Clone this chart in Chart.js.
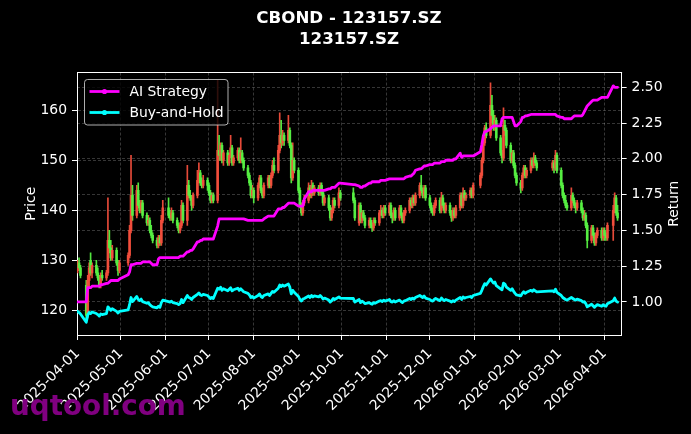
<!DOCTYPE html>
<html><head><meta charset="utf-8">
<script src="https://cdn.jsdelivr.net/npm/chart.js@4.4.1/dist/chart.umd.min.js"></script>
<style>html,body{margin:0;padding:0;background:#000;}canvas{display:block;}</style>
</head><body>
<canvas id="chart" width="691" height="434" style="width:691px;height:434px"></canvas>
<script>
// ---- categories ----
const firstDate = '2025-04-01';
const lastDate = '2026-04-10';
const holidays = ['2025-04-04','2025-05-01','2025-05-02','2025-05-05','2025-06-02',
  '2025-10-01','2025-10-02','2025-10-03','2025-10-06','2025-10-07','2025-10-08',
  '2026-01-01','2026-01-02','2026-02-16','2026-02-17','2026-02-18','2026-02-19','2026-02-20','2026-02-23','2026-04-06'];
const tickLabels = ['2025-04-01','2025-05-01','2025-06-01','2025-07-01','2025-08-01','2025-09-01',
  '2025-10-01','2025-11-01','2025-12-01','2026-01-01','2026-02-01','2026-03-01','2026-04-01'];
const priceTicks = [120,130,140,150,160];
const returnTicks = [1.00,1.25,1.50,1.75,2.00,2.25,2.50];

// ---- series (one value per trading day) ----
const open = [
128,129.5,128.5,125,119.5,126,130,127.5,129,127.5,126.5,125,127,126.5,127.5,134,132.5,130.5,132,129.5,128,
129.5,131,136,143,139,144,141,140,141.5,139,137.5,138,136,135,134,133,134.5,133.5,138,
140.5,139,138.5,139.5,138,137,136,137,141,138,145,143,142.5,141,143,146,147.5,145.5,145,146,
145,143.5,142,143,142,152,151,153,150,151.5,149.5,151,152.5,149.5,150.5,152,150,151.5,150,148.5,147,145.5,143,
144,142.5,145,146.5,144,143,145,146.5,145,147,149,148,152,155,153.5,155,154,156,153,146.5,150,
148,144,141,139.5,141.5,142,144.5,143,145,143.5,144.5,143.5,145,143.5,141.5,142.5,140.5,138.5,140,142,141,143.5,
143.5,142,137.5,141,138,139.5,138.5,137,138,137,136.5,138,137.5,139.5,140,139,140.5,
139.5,141,139,138.5,140,138.5,140.5,139,138,139.5,140,142,141,142.5,141.5,143,145,144,143,144.5,
142.5,141,140,139.5,141,142,140,142.5,141,140,141,139.5,138.5,140,139,140.5,143,141,143.5,142.5,143,144,143,
145,147,150,153.5,156.5,155,161,159,157,158,154.5,151.5,150.5,157,156,153,150,151.5,149,147,
145.5,144.5,147,148.5,147,148,150,149,150.5,149.5,148.5,149.5,148.5,151,
148,145,143,142,141,140.5,143,142,141,140.5,141.5,140,138.5,139,137,134,136.5,135,133.5,135,136,134.5,
136,135,134.5,137,140,142.5,139.5];
const high = [
130,130.5,129,126,127,129.5,131.5,129.5,130,128.5,127,127.5,128,128,142.5,136,134,133,132.5,130,130,
131.5,137,151,145,145,145.5,142,142,142,139.5,139,138.5,137,135.5,134.5,135,135,139,142,
142.5,140,140.5,140,138.5,137.5,137.5,142,141.5,149,146,144,143,143.5,148,149.5,148,146.5,147,146.5,
145.5,144,143.5,143.5,166,155,153.5,153.5,152,152,151.5,155,153,151,152.5,152.5,154.5,152,150.5,149,147.5,146,145,
144.5,145.5,147,147,144.5,145.5,147,147,147.5,150,150.5,153,159.5,158,156,155.5,159,156.5,153.5,153.5,150.5,
148.5,144.5,141.5,142,143,145.5,145,146,145.5,145,145,145.5,145.5,144,143,143,141,140.5,142.5,142.5,144.5,144,
144.5,142.5,141.5,141.5,140,140,139,138.5,138.5,137.5,138.5,138.5,140,141,140.5,141,141,
141.5,141.5,139.5,140.5,140.5,141,141,139.5,140,140.5,142.5,142.5,143,143,143.5,145.5,147,144.5,145,145,
143,141.5,140.5,141.5,142.5,142.5,143.6,143,141.5,141.5,141.5,140,140.5,140.5,141,143.5,143.5,144.5,144,143.5,144.5,144.5,145.5,
147.5,150.5,154,157,157.5,165.5,163,160,159,158.5,155,152,160.5,158,156.5,153.5,152,152,149.5,147.5,
146,147.5,149,149,148.5,150.5,150.5,151.5,151,150,150,150,152,151.5,
148.5,145.5,143.5,143,141.5,144.5,143.5,142.5,141.5,142,142,140.5,140,139.5,137.5,137,137,135.5,135.5,136.5,136.5,136.5,
136.5,135.5,137.5,141,143.5,143,141];
const low = [
127.5,128,126.5,118,118.5,124.5,127,126.5,127,126,124.5,124.5,126,126,127,131.5,130,130,129,127,127.5,
129,130.5,135.5,138,138.5,140.5,139.5,139.5,138.5,137,137,135.5,134.5,133.5,132.5,132.5,133,133,137.5,
138.5,138,138,137.5,136.5,135.5,135.5,136.5,137.5,137,142.5,142,140,140.5,142.5,145.5,145,144.5,144.5,144,
143,141.5,141.5,141.5,141.5,150,150,149.5,149,149,149,150.5,149,149,150,149.5,149.5,149.5,148,146.5,145,142.5,142.5,
141.5,142,144.5,143.5,142.5,142.5,144.5,144.5,144.5,146.5,147.5,147.5,151.5,152.5,153,153,153.5,152.5,145.5,146,147.5,
143.5,140.5,139,139,141,141.5,142.5,142.5,143,143,143,143,143,141,141,140,138,138,139.5,140.5,140.5,142,
141.5,138,137,137.5,137.5,138,136.5,136.5,136.5,135.8,136,137,137,139,138.5,138.5,139,
139,138.5,137.5,138,138,138,138.5,137.5,137.5,139,139.5,140.5,140.5,141,141,142.5,143.5,142.5,142.5,142,
140.5,139.5,139,139,140.5,139.5,139.5,140.5,139.5,139.5,139,137.8,138,138.5,138.5,140,140.5,140.5,142,142,142.5,142.5,142.5,
144.5,146.5,149.5,153,154.5,154.5,157.5,156,156,154,151,149.5,150,155,152.5,149.5,149.5,148.5,146.5,145,
143.5,144,146.5,146.5,146.5,147.5,148.5,148.5,149,148,148,147.5,148,147.5,
144.5,142.5,141.5,140.5,140,140,141.5,140.5,139.5,140,139.5,138,138,136.5,132.5,133.5,134.5,133,133,134.5,134,134,
134,134,134,134,139.5,139,138];
const close = [
129.5,128.5,127,119,126,128.5,127.5,129,127.5,126.5,125,127,126.5,127.5,134,132.5,130.5,132,129.5,128,129.5,
131,136,143,139,144,141,140,141.5,139,137.5,138,136,135,134,133,134.5,133.5,138,140.5,
139,138.5,139.5,138,137,136,137,141,138,145,143,142.5,141,143,146,147.5,145.5,145,146,145,
143.5,142,143,142,152,151,153,150,151.5,149.5,151,152.5,149.5,150.5,152,150,151.5,150,148.5,147,145.5,143,144,
142.5,145,146.5,144,143,145,146.5,145,147,149,148,152,155,153.5,155,154,156,153,146.5,150,148,
144,141,139.5,141.5,142,144.5,143,145,143.5,144.5,143.5,145,143.5,141.5,142.5,140.5,138.5,140,142,141,143.5,142.5,
142,138.5,141,138,139.5,138.5,137,138,137,136.5,138,137.5,139.5,140,139,140.5,139.5,
141,139,138.5,140,138.5,140.5,139,138,139.5,140,142,141,142.5,141.5,143,145,144,143,144.5,142.5,
141,140,139.5,141,142,140,142.5,141,140,141,139.5,138.5,140,139,140.5,143,141,143.5,142.5,143,144,143,145,
147,150,153.5,156.5,155,161,159,157,158,154.5,151.5,150.5,157,156,153,150,151.5,149,147,145.5,
144.5,147,148.5,147,148,150,149,150.5,149.5,148.5,149.5,148.5,151,148,
145,143,142,141,140.5,143,142,141,140.5,141.5,140,138.5,139,137,134,136.5,135,133.5,135,136,134.5,136,
135,134.5,137,140,142.5,139.5,138.5];
const aiStrategy = [
1.00,1.00,1.00,1.00,1.10,1.10,1.10,1.11,1.11,1.11,1.11,1.12,1.12,1.13,1.13,1.14,1.15,1.15,1.15,1.15,1.16,
1.19,1.21,1.26,1.26,1.27,1.27,1.27,1.27,1.28,1.28,1.28,1.28,1.27,1.26,1.26,1.30,1.31,1.31,1.31,
1.31,1.31,1.31,1.31,1.31,1.31,1.32,1.32,1.32,1.35,1.35,1.36,1.36,1.37,1.42,1.42,1.43,1.43,1.44,1.44,
1.44,1.44,1.44,1.44,1.53,1.58,1.58,1.58,1.58,1.58,1.58,1.58,1.58,1.58,1.58,1.58,1.58,1.58,1.58,1.57,1.57,1.57,1.57,
1.57,1.57,1.57,1.57,1.57,1.58,1.60,1.60,1.60,1.60,1.60,1.65,1.65,1.65,1.66,1.66,1.69,1.69,1.69,1.69,1.69,
1.67,1.67,1.67,1.67,1.72,1.77,1.77,1.77,1.78,1.78,1.78,1.78,1.78,1.78,1.78,1.79,1.79,1.80,1.80,1.80,1.83,1.83,
1.82,1.82,1.81,1.80,1.80,1.81,1.81,1.83,1.83,1.84,1.84,1.84,1.84,1.85,1.85,1.85,1.85,
1.86,1.86,1.86,1.86,1.86,1.86,1.86,1.86,1.86,1.87,1.88,1.88,1.89,1.90,1.92,1.93,1.93,1.94,1.95,1.95,
1.96,1.96,1.96,1.97,1.97,1.97,1.98,1.98,1.98,1.99,1.99,1.99,1.99,2.00,2.00,2.04,2.01,2.02,2.02,2.02,2.02,2.02,2.02,
2.05,2.10,2.16,2.19,2.19,2.21,2.22,2.23,2.23,2.23,2.23,2.28,2.29,2.29,2.29,2.29,2.29,2.26,2.23,2.23,
2.26,2.29,2.29,2.30,2.30,2.31,2.31,2.31,2.31,2.31,2.31,2.31,2.31,2.30,
2.29,2.29,2.28,2.28,2.28,2.28,2.29,2.30,2.30,2.30,2.30,2.31,2.33,2.35,2.37,2.40,2.41,2.41,2.41,2.41,2.43,2.43,
2.43,2.43,2.43,2.51,2.50,2.50,2.50];
const buyHold = [
0.934,0.926,0.916,0.858,0.908,0.926,0.919,0.930,0.919,0.912,0.901,0.916,0.912,0.919,0.966,0.955,0.941,0.952,0.934,0.923,0.934,
0.944,0.981,1.031,1.002,1.038,1.017,1.009,1.020,1.002,0.991,0.995,0.981,0.973,0.966,0.959,0.970,0.962,0.995,1.013,
1.002,0.999,1.006,0.995,0.988,0.981,0.988,1.017,0.995,1.045,1.031,1.027,1.017,1.031,1.053,1.063,1.049,1.045,1.053,1.045,
1.035,1.024,1.031,1.024,1.096,1.089,1.103,1.081,1.092,1.078,1.089,1.099,1.078,1.085,1.096,1.081,1.092,1.081,1.071,1.060,1.049,1.031,1.038,
1.027,1.045,1.056,1.038,1.031,1.045,1.056,1.045,1.060,1.074,1.067,1.096,1.118,1.107,1.118,1.110,1.125,1.103,1.056,1.081,1.067,
1.038,1.017,1.006,1.020,1.024,1.042,1.031,1.045,1.035,1.042,1.035,1.045,1.035,1.020,1.027,1.013,0.999,1.009,1.024,1.017,1.035,1.027,
1.024,0.999,1.017,0.995,1.006,0.999,0.988,0.995,0.988,0.984,0.995,0.991,1.006,1.009,1.002,1.013,1.006,
1.017,1.002,0.999,1.009,0.999,1.013,1.002,0.995,1.006,1.009,1.024,1.017,1.027,1.020,1.031,1.045,1.038,1.031,1.042,1.027,
1.017,1.009,1.006,1.017,1.024,1.009,1.027,1.017,1.009,1.017,1.006,0.999,1.009,1.002,1.013,1.031,1.017,1.035,1.027,1.031,1.038,1.031,1.045,
1.060,1.081,1.107,1.128,1.118,1.161,1.146,1.132,1.139,1.114,1.092,1.085,1.132,1.125,1.103,1.081,1.092,1.074,1.060,1.049,
1.042,1.060,1.071,1.060,1.067,1.081,1.074,1.085,1.078,1.071,1.078,1.071,1.089,1.067,
1.045,1.031,1.024,1.017,1.013,1.031,1.024,1.017,1.013,1.020,1.009,0.999,1.002,0.988,0.966,0.984,0.973,0.962,0.973,0.981,0.970,0.981,
0.973,0.970,0.988,1.009,1.027,1.006,0.999];

// ---- helpers ----
const DAY = 86400000;
function toUTC(s){ const p = s.split('-').map(Number); return Date.UTC(p[0], p[1]-1, p[2]); }
const t0 = toUTC(firstDate);
function dayNum(s){ return Math.round((toUTC(s) - t0) / DAY); }
const holidaySet = new Set(holidays.map(dayNum));
const tradingDays = [];
for (let t = t0; t <= toUTC(lastDate); t += DAY) {
  const dow = new Date(t).getUTCDay();
  const dn = Math.round((t - t0) / DAY);
  if (dow === 0 || dow === 6 || holidaySet.has(dn)) continue;
  tradingDays.push(dn);
}
const tickDays = tickLabels.map(dayNum);

const UP = 'rgba(242,78,60,0.95)';
const DOWN = 'rgba(86,240,66,0.95)';
const candleColors = tradingDays.map((d,i) => close[i] >= open[i] ? UP : DOWN);
const FONT = "'DejaVu Sans'";
const GRID = 'rgba(255,255,255,0.27)';

Chart.defaults.font.family = FONT;
Chart.defaults.color = '#ffffff';

const overlay = {
  id: 'overlay',
  afterDraw(chart) {
    const {ctx, chartArea: a} = chart;
    ctx.save();
    // top spine
    ctx.strokeStyle = '#ffffff'; ctx.lineWidth = 1;
    ctx.beginPath(); ctx.moveTo(a.left, 72.5); ctx.lineTo(a.right + 0.5, 72.5); ctx.stroke();
    // legend
    const lx = 84.5, ly = 79.5, lw = 143.5, lh = 45.5, r = 3;
    ctx.beginPath();
    ctx.moveTo(lx + r, ly); ctx.lineTo(lx + lw - r, ly); ctx.arcTo(lx + lw, ly, lx + lw, ly + r, r);
    ctx.lineTo(lx + lw, ly + lh - r); ctx.arcTo(lx + lw, ly + lh, lx + lw - r, ly + lh, r);
    ctx.lineTo(lx + r, ly + lh); ctx.arcTo(lx, ly + lh, lx, ly + lh - r, r);
    ctx.lineTo(lx, ly + r); ctx.arcTo(lx, ly, lx + r, ly, r); ctx.closePath();
    ctx.fillStyle = 'rgba(0,0,0,0.8)'; ctx.fill();
    ctx.strokeStyle = 'rgba(204,204,204,0.85)'; ctx.lineWidth = 1; ctx.stroke();
    const items = [['AI Strategy', '#ff00ff', 91.5], ['Buy-and-Hold', '#00ffff', 112.5]];
    ctx.font = '13.9px ' + FONT; ctx.textAlign = 'left'; ctx.textBaseline = 'alphabetic';
    for (const [label, color, y] of items) {
      ctx.strokeStyle = color; ctx.lineWidth = 2.8; ctx.lineCap = 'butt';
      ctx.beginPath(); ctx.moveTo(89.5, y); ctx.lineTo(119.5, y); ctx.stroke();
      ctx.fillStyle = color; ctx.beginPath(); ctx.arc(104.5, y, 2.6, 0, Math.PI * 2); ctx.fill();
      ctx.fillStyle = '#ffffff'; ctx.fillText(label, 129.5, y + 4.6);
    }
    // right axis title
    ctx.save();
    ctx.translate(677.5, (a.top + a.bottom) / 2); ctx.rotate(-Math.PI / 2);
    ctx.font = '13.9px ' + FONT; ctx.fillStyle = '#ffffff'; ctx.textAlign = 'center'; ctx.textBaseline = 'alphabetic';
    ctx.fillText('Return', 0, 0);
    ctx.restore();
    // watermark
    ctx.font = 'bold 27.8px ' + FONT; ctx.fillStyle = '#800080'; ctx.textAlign = 'left'; ctx.textBaseline = 'alphabetic';
    ctx.fillText('uqtool.com', 10, 415);
    ctx.restore();
  }
};

new Chart(document.getElementById('chart'), {
  type: 'bar',
  data: {
    datasets: [
      { type: 'line', label: 'AI Strategy', yAxisID: 'y1', order: 0,
        data: tradingDays.map((d,i) => ({x: d, y: aiStrategy[i]})),
        borderColor: '#ff00ff', borderWidth: 2.8, pointRadius: 0, tension: 0,
        borderJoinStyle: 'round', borderCapStyle: 'round' },
      { type: 'line', label: 'Buy-and-Hold', yAxisID: 'y1', order: 1,
        data: tradingDays.map((d,i) => ({x: d, y: buyHold[i]})),
        borderColor: '#00ffff', borderWidth: 2.8, pointRadius: 0, tension: 0,
        borderJoinStyle: 'round', borderCapStyle: 'round' },
      { label: 'body', yAxisID: 'y', order: 2, grouped: false,
        data: tradingDays.map((d,i) => ({x: d, y: [open[i], close[i]]})),
        backgroundColor: candleColors, barThickness: 2, minBarLength: 1, borderWidth: 0 },
      { label: 'wick', yAxisID: 'y', order: 3, grouped: false,
        data: tradingDays.map((d,i) => ({x: d, y: [low[i], high[i]]})),
        backgroundColor: candleColors, barThickness: 1, borderWidth: 0 }
    ]
  },
  options: {
    responsive: false, animation: false, devicePixelRatio: 1, events: [],
    layout: { padding: { left: 7, right: 0, top: 0, bottom: 0 } },
    plugins: {
      legend: { display: false }, tooltip: { enabled: false },
      title: { display: true, text: ['CBOND - 123157.SZ', '123157.SZ'], color: '#ffffff',
        font: { family: FONT, size: 16.67, weight: 'bold', lineHeight: 1.3 },
        padding: { top: 7.4, bottom: 21.8 } }
    },
    scales: {
      x: { type: 'linear', position: 'bottom', min: -0.42, max: 376.8, offset: false,
        afterBuildTicks: s => { s.ticks = tickDays.map(v => ({value: v})); },
        afterFit: s => { s.height = 99; },
        ticks: { callback: (v, i) => tickLabels[i], color: '#ffffff', font: { size: 13.9 },
          minRotation: 45, maxRotation: 45, autoSkip: false, padding: 5.5 },
        grid: { color: GRID, lineWidth: 0.8, offset: false, tickColor: '#ffffff', tickLength: 5, tickWidth: 1 },
        border: { display: true, color: '#ffffff', width: 1, dash: [3, 2] } },
      y: { type: 'linear', position: 'left', min: 115.06, max: 167.56,
        afterBuildTicks: s => { s.ticks = priceTicks.map(v => ({value: v})); },
        afterFit: s => { s.width = 70; },
        ticks: { callback: v => String(v), color: '#ffffff', font: { size: 13.9 }, padding: 5 },
        title: { display: true, text: 'Price', color: '#ffffff', font: { size: 13.9 }, padding: { top: 16, bottom: 0 } },
        grid: { color: GRID, lineWidth: 0.8, tickColor: '#ffffff', tickLength: 5, tickWidth: 1 },
        border: { display: true, color: '#ffffff', width: 1, dash: [3, 2] } },
      y1: { type: 'linear', position: 'right', min: 0.769, max: 2.603,
        afterBuildTicks: s => { s.ticks = returnTicks.map(v => ({value: v})); },
        afterFit: s => { s.width = 69.4; },
        ticks: { callback: v => Number(v).toFixed(2), color: '#ffffff', font: { size: 13.9 }, padding: 5 },
        grid: { color: GRID, lineWidth: 0.8, tickColor: '#ffffff', tickLength: 5, tickWidth: 1 },
        border: { display: true, color: '#ffffff', width: 1, dash: [3, 2] } }
    }
  },
  plugins: [overlay]
});
</script>
</body></html>
